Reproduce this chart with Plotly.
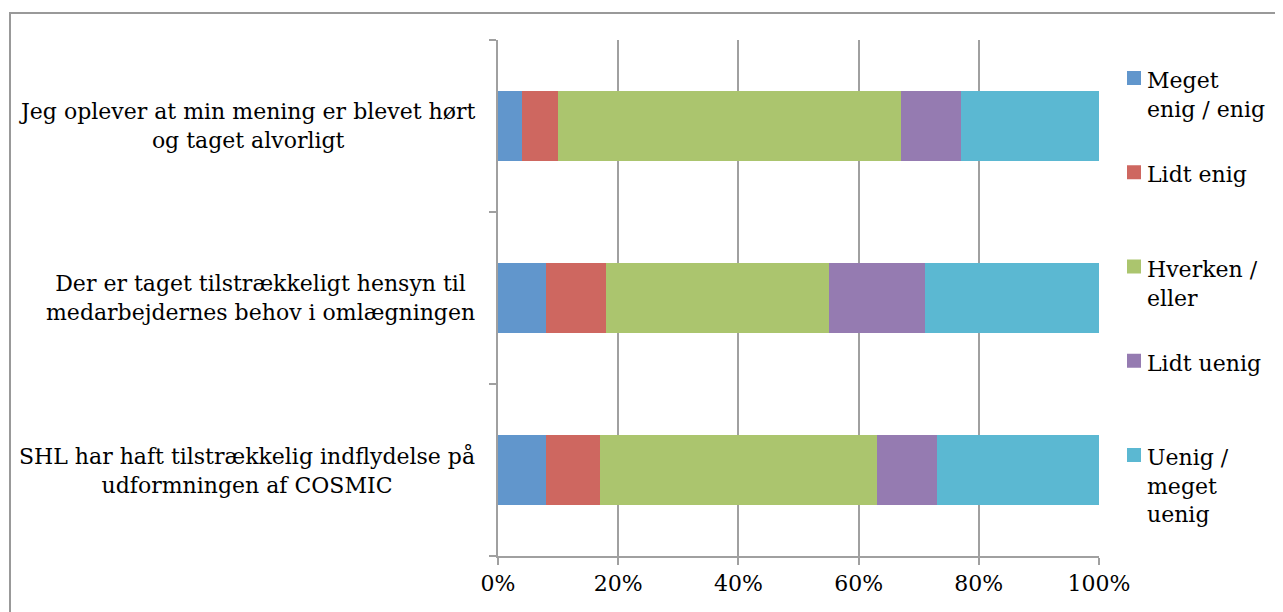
import plotly.graph_objects as go

categories = [
    "Jeg oplever at min mening er blevet hørt<br>og taget alvorligt",
    "Der er taget tilstrækkeligt hensyn til<br>medarbejdernes behov i omlægningen",
    "SHL har haft tilstrækkelig indflydelse på<br>udformningen af COSMIC",
]
series_names = ["Meget enig / enig", "Lidt enig", "Hverken / eller", "Lidt uenig", "Uenig / meget uenig"]
legend_labels = ["Meget<br>enig / enig", "Lidt enig", "Hverken /<br>eller", "Lidt uenig", "Uenig /<br>meget<br>uenig"]
meget_enig = [0.04, 0.08, 0.08]
lidt_enig = [0.06, 0.10, 0.09]
hverken = [0.57, 0.37, 0.46]
lidt_uenig = [0.10, 0.16, 0.10]
uenig = [0.23, 0.29, 0.27]
series_values = [meget_enig, lidt_enig, hverken, lidt_uenig, uenig]
colors = ["#6196CC", "#CE6760", "#ABC56E", "#957BB1", "#5BB8D2"]
x_ticks = [0, 0.2, 0.4, 0.6, 0.8, 1.0]

FONT = "DejaVu Serif"
FS = 22
W, H = 1283, 612
OFF = 8  # page body margin
L, R, T, B = 498, 1099, 40, 556  # plot area in page pixels


def px(x):
    return (x - L) / (R - L)


def py(y):
    return (B - y) / (B - T)


fig = go.Figure()
for name, vals, col in zip(series_names, series_values, colors):
    fig.add_trace(go.Bar(
        y=categories, x=vals, name=name, orientation="h",
        marker=dict(color=col, line=dict(width=0)),
        width=0.405, showlegend=False,
    ))

annotations = []
for c in categories:
    annotations.append(dict(
        x=px(477), xref="paper", y=c, yref="y", text=c, showarrow=False,
        xanchor="right", yanchor="middle", align="center",
        font=dict(family=FONT, size=FS, color="#000000"),
    ))

shapes = []
# outer chart border
shapes.append(dict(type="rect", xref="paper", yref="paper",
                   x0=px(10), x1=px(1320), y0=py(640), y1=py(13),
                   line=dict(color="#999999", width=2), fillcolor="rgba(0,0,0,0)", layer="below"))

# manual legend
for i, (lab, col) in enumerate(zip(legend_labels, colors)):
    top = 71 + 94.25 * i
    shapes.append(dict(type="rect", xref="paper", yref="paper",
                       x0=px(1127), x1=px(1141), y0=py(top + 14), y1=py(top),
                       line=dict(width=0), fillcolor=col))
    annotations.append(dict(
        x=px(1145), xref="paper", y=py(top - 5), yref="paper", text=lab, showarrow=False,
        xanchor="left", yanchor="top", align="left",
        font=dict(family=FONT, size=FS, color="#000000"),
    ))

fig.update_layout(
    barmode="stack",
    width=W, height=H,
    margin=dict(l=L - OFF, r=W - R + OFF, t=T - OFF, b=H - B + OFF, pad=0),
    paper_bgcolor="white", plot_bgcolor="white",
    showlegend=False,
    annotations=annotations,
    shapes=shapes,
    xaxis=dict(
        range=[0, 1], tickvals=x_ticks, tickformat=".0%",
        showgrid=True, gridcolor="#A0A0A0", gridwidth=2,
        showline=True, linecolor="#A0A0A0", linewidth=2,
        ticks="outside", ticklen=7, tickcolor="#A0A0A0", tickwidth=2,
        tickfont=dict(family=FONT, size=FS, color="#000000"),
        zeroline=False, fixedrange=True,
    ),
    yaxis=dict(
        categoryorder="array", categoryarray=categories[::-1],
        showticklabels=False, tickson="boundaries",
        ticks="outside", ticklen=7, tickcolor="#A0A0A0", tickwidth=2,
        showline=True, linecolor="#A0A0A0", linewidth=2,
        showgrid=False, zeroline=False, fixedrange=True,
    ),
)

fig.write_html("out.html")
